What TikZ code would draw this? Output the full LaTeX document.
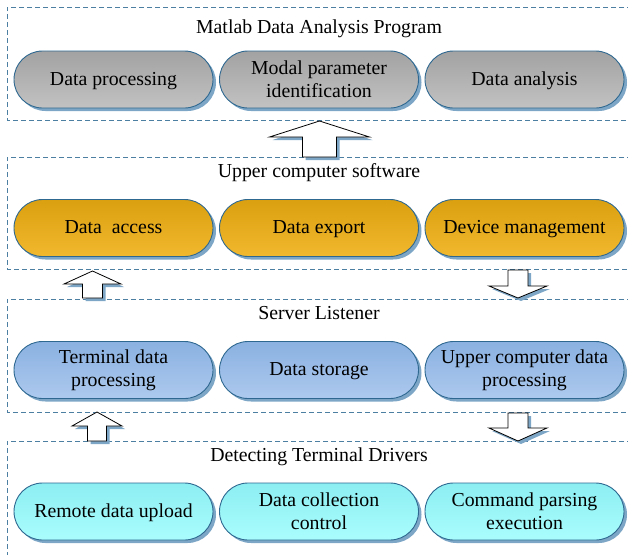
\documentclass[tikz,border=0pt]{standalone}
\usepackage{fontspec}
\setmainfont{Liberation Serif}
\usetikzlibrary{shadows}
\definecolor{framec}{HTML}{4D7FA3}
\definecolor{borderc}{HTML}{2E6890}
\definecolor{shadowc}{HTML}{7DA6C6}
\definecolor{grayT}{HTML}{A2A2A2}
\definecolor{grayB}{HTML}{C2C2C2}
\definecolor{orT}{HTML}{DBA010}
\definecolor{orB}{HTML}{F2B82E}
\definecolor{blT}{HTML}{8AB1E1}
\definecolor{blB}{HTML}{ADC9EE}
\definecolor{cyT}{HTML}{8CEEF2}
\definecolor{cyB}{HTML}{AAFDFD}
\newcommand\blkarrow[6]{%
  \begin{scope}[shift={(3,3)}]
  \fill[shadowc] (#1,#2) -- ({#1-#5},#3) -- ({#1-#6},#3) -- ({#1-#6},#4) -- ({#1+#6},#4) -- ({#1+#6},#3) -- ({#1+#5},#3) -- cycle;
  \end{scope}
  \draw[black, line width=0.8pt, fill=white] (#1,#2) -- ({#1-#5},#3) -- ({#1-#6},#3) -- ({#1-#6},#4) -- ({#1+#6},#4) -- ({#1+#6},#3) -- ({#1+#5},#3) -- cycle;}
\tikzset{
  frame/.style={draw=framec, line width=0.9pt, dash pattern=on 5pt off 3pt},
  pill/.style={draw=borderc, line width=0.9pt, minimum width=199pt, minimum height=57pt,
    rounded corners=28.5pt, inner sep=0pt, align=center,
    font=\fontsize{19.8}{23}\selectfont,
    general shadow={fill=shadowc, shadow xshift=3pt, shadow yshift=-3pt}},
  one/.style={text height=14pt, text depth=3pt},
  gpill/.style={pill, top color=grayT, bottom color=grayB},
  opill/.style={pill, top color=orT, bottom color=orB},
  bpill/.style={pill, top color=blT, bottom color=blB},
  cpill/.style={pill, top color=cyT, bottom color=cyB},
  ttl/.style={font=\fontsize{19.8}{23}\selectfont, inner sep=0pt, anchor=base}
}
\begin{document}
\begin{tikzpicture}[x=1pt, y=-1pt]
\useasboundingbox (0,0) rectangle (628,554);
% frames
\draw[frame] (640,7) -- (7,7) -- (7,120) -- (640,120);
\draw[frame] (640,157) -- (7,157) -- (7,269) -- (640,269);
\draw[frame] (640,299) -- (7,299) -- (7,412) -- (640,412);
\draw[frame] (640,441) -- (7,441) -- (7,600);
% titles
\node[ttl] (t1) at (319,33) {Matlab Data Analysis Program};
\node[ttl] (t2) at (319,177.5) {Upper computer software};
\node[ttl] (t3) at (319,319) {Server Listener};
\node[ttl] (t4) at (319,461.5) {Detecting Terminal Drivers};
% row 1
\node[gpill, one] (a1) at (113.5,79.5) {Data processing};
\node[gpill] (a2) at (319,79.5) {Modal parameter\\identification};
\node[gpill, one] (a3) at (524.5,79.5) {Data analysis};
% row 2
\node[opill, one] (b1) at (113.5,228) {Data\ \ access};
\node[opill, one] (b2) at (319,228) {Data export};
\node[opill, one] (b3) at (524.5,228) {Device management};
% row 3
\node[bpill] (c1) at (113.5,370) {Terminal data\\processing};
\node[bpill, one] (c2) at (319,370) {Data storage};
\node[bpill] (c3) at (524.5,370) {Upper computer data\\processing};
% row 4
\node[cpill, one] (d1) at (113.5,511.5) {Remote data upload};
\node[cpill] (d2) at (319,511.5) {Data collection\\control};
\node[cpill] (d3) at (524.5,511.5) {Command parsing\\execution};
% block arrows
\blkarrow{319.5}{121}{137}{157}{50}{17}
\blkarrow{92.5}{271}{284}{298}{28.5}{10}
\blkarrow{518}{298}{286}{270}{29}{10}
\blkarrow{97}{412}{426}{441}{25}{9.5}
\blkarrow{518}{441}{428}{413}{29}{10}
\end{tikzpicture}
\end{document}
